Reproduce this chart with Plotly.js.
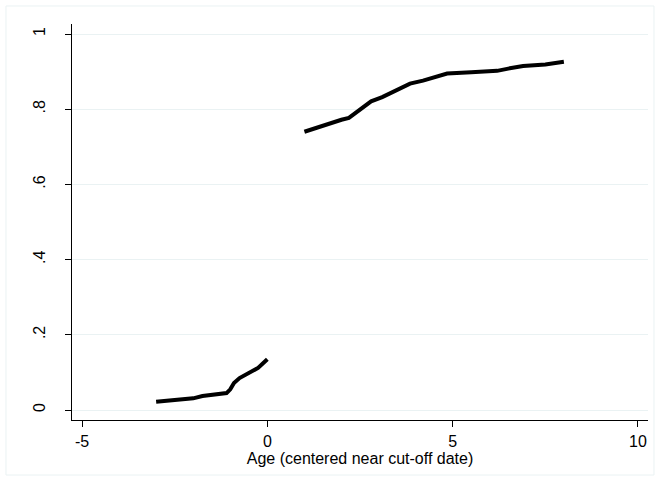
<!DOCTYPE html>
<html>
<head>
<meta charset="utf-8">
<script src="https://cdn.plot.ly/plotly-3.0.1.min.js"></script>
<style>
html, body { margin: 0; padding: 0; background: #ffffff; }
#chart { width: 655px; height: 481px; }
</style>
</head>
<body>
<div id="chart"></div>
<script>
// Left segment (before cut-off)
var leftAge = [-3, -2.5, -2, -1.75, -1.5, -1.25, -1.1, -1, -0.9, -0.75, -0.5, -0.25, 0];
var leftShare = [0.022, 0.026, 0.031, 0.037, 0.040, 0.043, 0.045, 0.055, 0.072, 0.085, 0.098, 0.112, 0.135];

// Right segment (after cut-off)
var rightAge = [1, 1.25, 1.5, 1.75, 2, 2.2, 2.5, 2.8, 3.1, 3.5, 3.85, 4.2, 4.5, 4.85, 5.5, 6.2, 6.5, 6.9, 7.5, 8];
var rightShare = [0.740, 0.748, 0.758, 0.766, 0.772, 0.777, 0.798, 0.821, 0.832, 0.850, 0.868, 0.876, 0.886, 0.895, 0.898, 0.902, 0.908, 0.915, 0.919, 0.926];

var xTickVals = [-5, 0, 5, 10];
var xTickText = ["-5", "0", "5", "10"];
var yTickVals = [0, 0.2, 0.4, 0.6, 0.8, 1];
var yTickText = ["0", ".2", ".4", ".6", ".8", "1"];
var xTitle = "Age (centered near cut-off date)";

var lineStyle = { color: "#000000", width: 4 };

var traces = [
  { x: leftAge, y: leftShare, type: "scatter", mode: "lines", line: lineStyle, showlegend: false, hoverinfo: "skip" },
  { x: rightAge, y: rightShare, type: "scatter", mode: "lines", line: lineStyle, showlegend: false, hoverinfo: "skip" }
];

var layout = {
  width: 655,
  height: 481,
  margin: { l: 72, r: 7, t: 24, b: 61, pad: 0 },
  paper_bgcolor: "#ffffff",
  plot_bgcolor: "#ffffff",
  font: { family: "Liberation Sans, Arial, sans-serif", size: 16, color: "#000000" },
  xaxis: {
    range: [-5.27, 10.27],
    tickvals: xTickVals,
    ticktext: xTickText,
    ticks: "outside",
    ticklen: 6,
    tickwidth: 1,
    tickcolor: "#000000",
    ticklabelstandoff: 1,
    showline: true,
    linecolor: "#000000",
    linewidth: 1,
    showgrid: false,
    zeroline: false,
    title: { text: xTitle, font: { size: 16 }, standoff: 3 },
    automargin: false
  },
  yaxis: {
    range: [-0.0266, 1.0266],
    tickvals: yTickVals,
    ticktext: yTickText,
    tickangle: -90,
    ticks: "outside",
    ticklen: 6,
    tickwidth: 1,
    tickcolor: "#000000",
    ticklabelstandoff: 14,
    showline: true,
    linecolor: "#000000",
    linewidth: 1,
    showgrid: true,
    gridcolor: "#eaf2f3",
    gridwidth: 1,
    zeroline: false,
    automargin: false
  },
  shapes: [
    { type: "rect", xref: "paper", yref: "paper",
      x0: -0.1146, x1: 1.0104, y0: -0.1389, y1: 1.0455,
      line: { color: "#eaf2f3", width: 1 }, fillcolor: "rgba(0,0,0,0)", layer: "below" }
  ]
};

Plotly.newPlot("chart", traces, layout, { staticPlot: true, displayModeBar: false });
</script>
</body>
</html>
